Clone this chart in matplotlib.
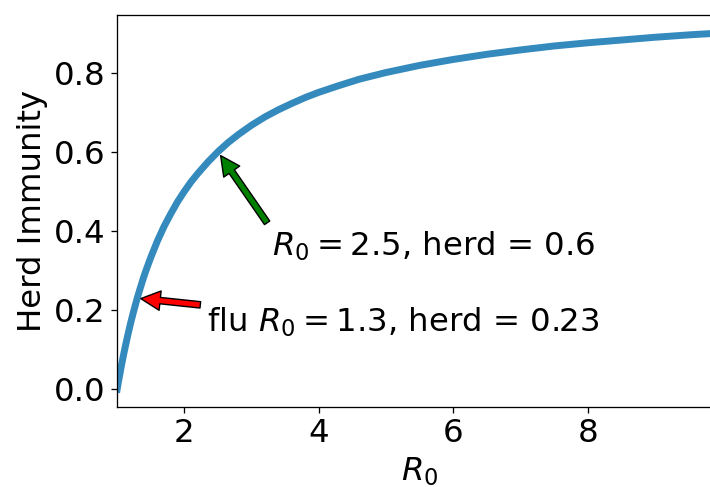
import matplotlib.pyplot as plt

# R0 vs herd immunity threshold
r0 = [1.0, 1.02, 1.04, 1.06, 1.08, 1.1, 1.13, 1.16, 1.2, 1.25, 1.3, 1.35, 1.4,
      1.45, 1.5, 1.6, 1.7, 1.8, 1.9, 2.0, 2.1, 2.2, 2.35, 2.5, 2.65, 2.8, 3.0,
      3.2, 3.4, 3.6, 3.8, 4.0, 4.3, 4.6, 5.0, 5.5, 6.0, 6.5, 7.0, 7.5, 8.0,
      8.5, 9.0, 9.5, 10.0]
herd = [0.0, 0.02, 0.038, 0.057, 0.074, 0.091, 0.115, 0.138, 0.167, 0.2, 0.231,
        0.259, 0.286, 0.31, 0.333, 0.375, 0.412, 0.444, 0.474, 0.5, 0.524,
        0.545, 0.574, 0.6, 0.623, 0.643, 0.667, 0.688, 0.706, 0.722, 0.737,
        0.75, 0.767, 0.783, 0.8, 0.818, 0.833, 0.846, 0.857, 0.867, 0.875,
        0.882, 0.889, 0.895, 0.9]

covid = (2.5, 0.6)
flu = (1.3, 0.23)

fs = 23.3
k = 1.165  # everything looks scaled up a bit from the defaults

fig = plt.figure(figsize=(7.1, 4.87), dpi=100)
ax = fig.add_axes([0.165, 0.164, 0.852, 0.805])

ax.plot(r0, herd, color='#348ABD', lw=5)
ax.set_xlim(1, 10)
ax.set_xticks([2, 4, 6, 8])
ax.set_yticks([0.0, 0.2, 0.4, 0.6, 0.8])
ax.tick_params(labelsize=fs, length=3.5 * k, width=0.8 * k, pad=3.5 * k)
for s in ax.spines.values():
    s.set_linewidth(0.8 * k)
ax.set_xlabel('$R_0$', fontsize=fs, labelpad=4 * k)
ax.set_ylabel('Herd Immunity', fontsize=fs, labelpad=4 * k)

arrow = dict(width=4.6, headwidth=14, headlength=14, shrink=0.05)
ax.annotate('$R_0 = 2.5$, herd = 0.6', xy=covid, xytext=(3.3, 0.338),
            fontsize=fs, arrowprops=dict(facecolor='green', **arrow))
ax.annotate('flu $R_0 = 1.3$, herd = 0.23', xy=flu, xytext=(2.33, 0.146),
            fontsize=fs, arrowprops=dict(facecolor='red', **arrow))

fig.savefig('out.png', dpi=100)
